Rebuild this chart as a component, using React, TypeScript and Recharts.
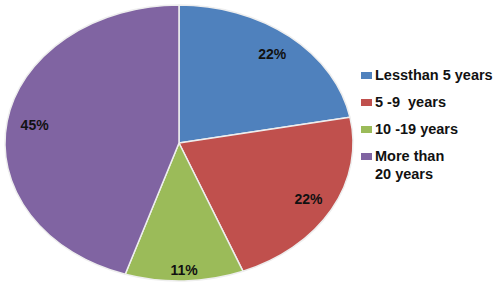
import { Legend, Pie, PieChart } from "recharts"

const categories = ["Lessthan 5 years", "5 -9  years", "10 -19 years", "More than 20 years"]
const shares = [22, 22, 11, 45]
const colors = ["#4F81BD", "#C0504D", "#9BBB59", "#8064A2"]

const data = categories.map((name, i) => ({ name, value: shares[i], fill: colors[i] }))

const RADIAN = Math.PI / 180
// the original pie is squashed vertically
const FLAT = 138 / 174
const FONT = "'Liberation Sans', Arial, sans-serif"

function EllipseSector(props: any) {
	const { cx, cy, outerRadius, startAngle, endAngle, fill } = props
	const rx = outerRadius
	const ry = outerRadius * FLAT
	const pt = (a: number) => [cx + rx * Math.cos(-a * RADIAN), cy + ry * Math.sin(-a * RADIAN)]
	const [x1, y1] = pt(startAngle)
	const [x2, y2] = pt(endAngle)
	const large = Math.abs(endAngle - startAngle) > 180 ? 1 : 0
	const sweep = endAngle < startAngle ? 1 : 0
	const d = `M ${cx} ${cy} L ${x1} ${y1} A ${rx} ${ry} 0 ${large} ${sweep} ${x2} ${y2} Z`
	return <path d={d} fill={fill} stroke="#eeeeee" strokeWidth={1.5} strokeLinejoin="round" />
}

function renderLabel(props: any) {
	const { cx, cy, midAngle, outerRadius, value } = props
	const s = Math.sin(-midAngle * RADIAN)
	const k = 0.84 + 0.08 * Math.max(0, s) * Math.max(0, s) * Math.max(0, s)
	const x = cx + outerRadius * k * Math.cos(-midAngle * RADIAN)
	const y = cy + outerRadius * FLAT * k * s
	return (
		<text
			x={x}
			y={y}
			textAnchor="middle"
			dominantBaseline="central"
			fontSize={14}
			fontWeight="bold"
			fontFamily={FONT}
			fill="#111"
		>
			{value}%
		</text>
	)
}

function LegendBox() {
	return (
		<div style={{ fontFamily: FONT, fontWeight: "bold", fontSize: 14.5, color: "#111" }}>
			{categories.map((c, i) => (
				<div key={c} style={{ display: "flex", alignItems: "flex-start", lineHeight: "18px", marginBottom: 9 }}>
					<span style={{ width: 11, height: 7, background: colors[i], marginTop: 6, marginRight: 3, flexShrink: 0 }} />
					<span style={{ whiteSpace: "pre" }}>{c.replace(/^More than /, "More than\n")}</span>
				</div>
			))}
		</div>
	)
}

export default function App() {
	return (
		<div style={{ position: "fixed", left: 0, top: 0, background: "#fff" }}>
			<PieChart width={500} height={294} margin={{ top: 0, right: 0, bottom: 0, left: 0 }}>
				<Pie
					data={data}
					dataKey="value"
					nameKey="name"
					cx={179}
					cy={143}
					outerRadius={174}
					startAngle={90}
					endAngle={-270}
					shape={EllipseSector}
					label={renderLabel}
					labelLine={false}
					isAnimationActive={false}
				/>
				<Legend
					layout="vertical"
					verticalAlign="top"
					align="right"
					content={LegendBox}
					wrapperStyle={{ top: 66, left: 361, width: 139 }}
				/>
			</PieChart>
		</div>
	)
}
